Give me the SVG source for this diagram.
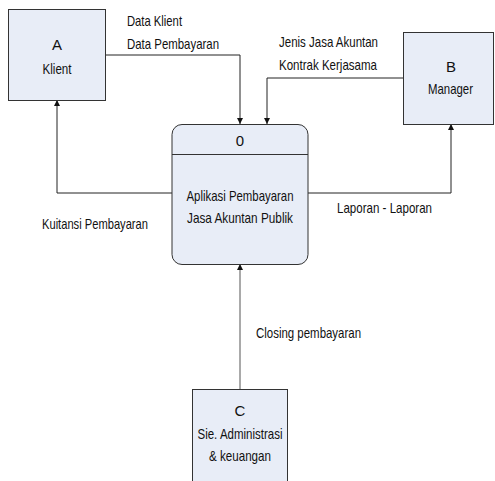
<svg xmlns="http://www.w3.org/2000/svg" width="495" height="481" viewBox="0 0 495 481">
<defs>
<style>
.box{fill:#e8edf7;stroke:#333;stroke-width:1}
.t{font-family:"Liberation Sans",Arial,sans-serif;font-size:15px;fill:#111}
.m{text-anchor:middle}
.ln{fill:none;stroke:#222;stroke-width:1}
</style>
<marker id="ah" viewBox="0 0 10 10" refX="10" refY="5" markerWidth="6" markerHeight="9" markerUnits="userSpaceOnUse" orient="auto">
<path d="M0,0 L10,5 L0,10 z" fill="#111"/>
</marker>
</defs>
<rect width="495" height="481" fill="#fff"/>
<g id="connectors">
<polyline class="ln" points="105,55 240,55 240,124" marker-end="url(#ah)"/>
<polyline class="ln" points="403,78 267,78 267,124" marker-end="url(#ah)"/>
<polyline class="ln" points="172,193 57,193 57,100" marker-end="url(#ah)"/>
<polyline class="ln" points="308,193 451,193 451,124" marker-end="url(#ah)"/>
<polyline class="ln" style="stroke:#555" points="240,389 240,264" marker-end="url(#ah)"/>
<text class="t" x="127" y="26" textLength="55" lengthAdjust="spacingAndGlyphs">Data Klient</text>
<text class="t" x="127" y="49" textLength="92" lengthAdjust="spacingAndGlyphs">Data Pembayaran</text>
<text class="t" x="279" y="47" textLength="99" lengthAdjust="spacingAndGlyphs">Jenis Jasa Akuntan</text>
<text class="t" x="279" y="70" textLength="98" lengthAdjust="spacingAndGlyphs">Kontrak Kerjasama</text>
<text class="t" x="42" y="229" textLength="106" lengthAdjust="spacingAndGlyphs">Kuitansi Pembayaran</text>
<text class="t" x="337" y="213" textLength="95" lengthAdjust="spacingAndGlyphs">Laporan - Laporan</text>
<text class="t" x="256" y="338" textLength="105" lengthAdjust="spacingAndGlyphs">Closing pembayaran</text>
</g>
<g id="nodeA">
<rect class="box" x="8.5" y="9.5" width="97" height="91"/>
<text class="t m" x="57" y="50">A</text>
<text class="t m" x="57" y="74" textLength="29" lengthAdjust="spacingAndGlyphs">Klient</text>
</g>
<g id="nodeB">
<rect class="box" x="403.5" y="32.5" width="90" height="92"/>
<text class="t m" x="451" y="72">B</text>
<text class="t m" x="450.5" y="94" textLength="45" lengthAdjust="spacingAndGlyphs">Manager</text>
</g>
<g id="process0">
<rect class="box" x="172" y="124.5" width="136" height="140" rx="10" ry="10"/>
<line class="ln" x1="172" y1="154.5" x2="308" y2="154.5" style="stroke:#333"/>
<text class="t m" x="240" y="146">0</text>
<text class="t m" x="240" y="201" textLength="107" lengthAdjust="spacingAndGlyphs">Aplikasi Pembayaran</text>
<text class="t m" x="240" y="223" textLength="106" lengthAdjust="spacingAndGlyphs">Jasa Akuntan Publik</text>
</g>
<g id="nodeC">
<rect class="box" x="192.5" y="389.5" width="95" height="100"/>
<text class="t m" x="240" y="416">C</text>
<text class="t m" x="240" y="439" textLength="85" lengthAdjust="spacingAndGlyphs">Sie. Administrasi</text>
<text class="t m" x="240" y="461" textLength="62" lengthAdjust="spacingAndGlyphs">&amp; keuangan</text>
</g>
</svg>
